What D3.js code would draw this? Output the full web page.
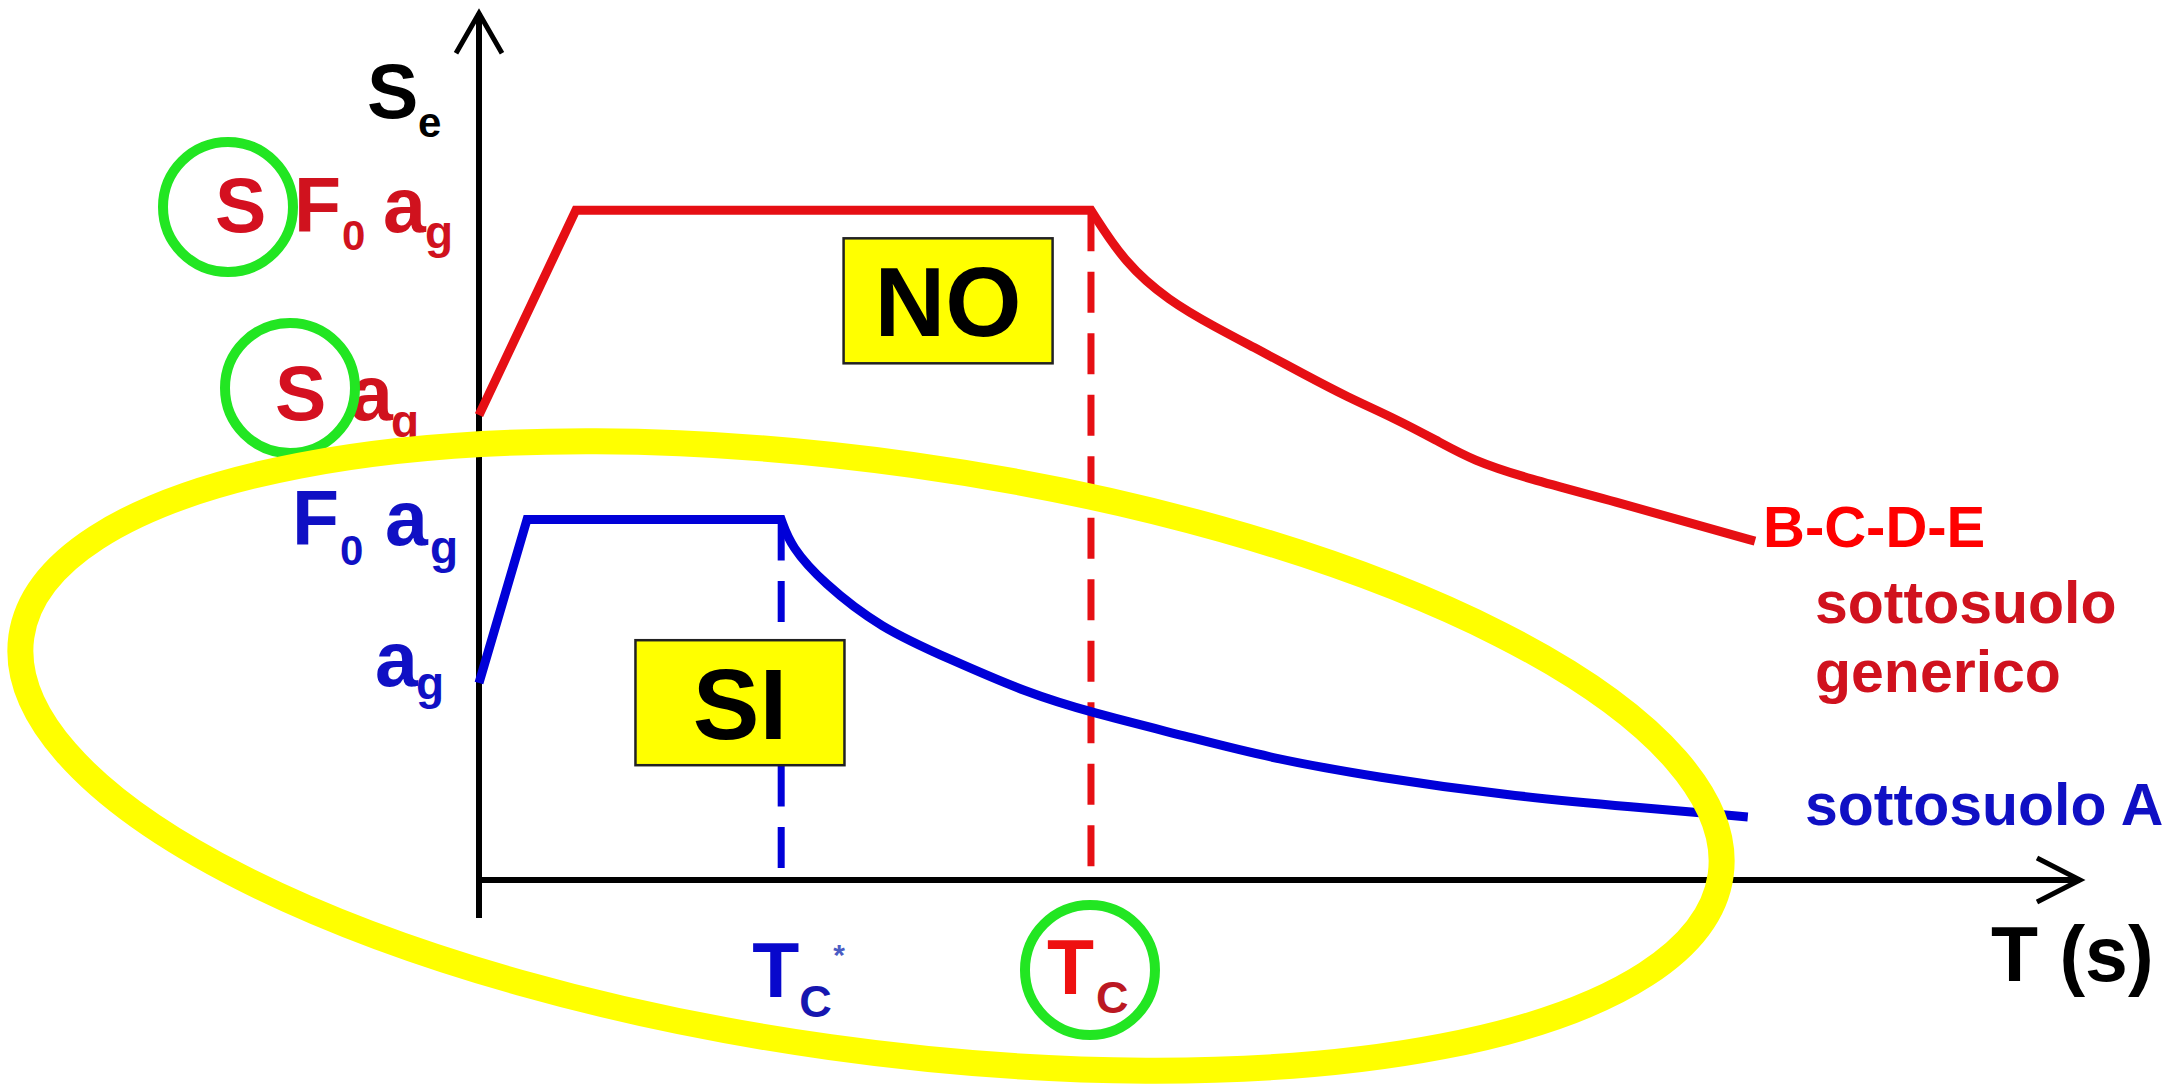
<!DOCTYPE html>
<html>
<head>
<meta charset="utf-8">
<script src="https://cdn.jsdelivr.net/npm/d3@7"></script>
<style>
  html, body { margin: 0; padding: 0; background: #ffffff; }
  svg { display: block; }
  text { font-family: "Liberation Sans", Arial, Helvetica, sans-serif; font-weight: bold; }
</style>
</head>
<body>
<svg id="chart" width="2179" height="1084"></svg>
<script>
// Elastic response spectrum Se(T): generic subsoil (B-C-D-E) against subsoil A.
// Periods in seconds, spectral ordinates in multiples of a_g.
const periodsGeneric = [0, 0.242, 1.529, 1.614, 1.724, 1.836, 1.949, 2.059, 2.171, 2.281, 2.394, 2.483, 2.616, 2.841, 3.064, 3.188];
const seGeneric      = [2.36, 3.40, 3.40, 3.13, 2.94, 2.81, 2.69, 2.57, 2.45, 2.35, 2.23, 2.13, 2.04, 1.92, 1.79, 1.72];

const periodsA = [0, 0.12, 0.755, 0.780, 0.859, 1.002, 1.177, 1.369, 1.529, 1.766, 1.974, 2.246, 2.563, 2.883, 3.170];
const seA      = [1.00, 1.83, 1.83, 1.69, 1.51, 1.28, 1.12, 0.95, 0.85, 0.73, 0.62, 0.52, 0.43, 0.37, 0.32];

// Corner periods T_C of the constant-acceleration branch
const cornerPeriodNames = ["generic", "A"];
const cornerPeriods     = [1.529, 0.755];

// Ordinates marked on the Se axis
const seLevelNames  = ["S F0 ag", "S ag", "F0 ag", "ag"];
const seLevelValues = [3.40, 2.36, 1.83, 1.00];

// Curve labels
const seriesNames = ["B-C-D-E", "sottosuolo generico", "sottosuolo A"];

const svg = d3.select("#chart");

const x = d3.scaleLinear().domain([0, 4]).range([479, 2080]);
const y = d3.scaleLinear().domain([0, 4.4]).range([880, 13.2]);

const RED = "#e60f14", BLUE = "#0000d8";
const RED_TXT = "#d0121e", BLUE_TXT = "#1010c4";

// ---- axes ----
const axes = svg.append("g").attr("stroke", "#000");
axes.append("line")
  .attr("x1", x(0)).attr("x2", x(0))
  .attr("y1", y.range()[1]).attr("y2", y(0) + 38)
  .attr("stroke-width", 6);
axes.append("line")
  .attr("x1", x(0) - 3).attr("x2", x.range()[1])
  .attr("y1", y(0)).attr("y2", y(0))
  .attr("stroke-width", 6);
axes.append("path")
  .attr("d", `M${x(0) - 23},${y.range()[1] + 40} L${x(0)},${y.range()[1]} L${x(0) + 23},${y.range()[1] + 40}`)
  .attr("fill", "none").attr("stroke-width", 5);
axes.append("path")
  .attr("d", `M${x.range()[1] - 43},${y(0) - 22} L${x.range()[1]},${y(0)} L${x.range()[1] - 43},${y(0) + 22}`)
  .attr("fill", "none").attr("stroke-width", 5);

// ---- dashed verticals at the corner periods ----
const plateau = { generic: seGeneric[1], A: seA[1] };
const dashColor = { generic: RED, A: BLUE };
cornerPeriodNames.forEach((name, i) => {
  svg.append("line")
    .attr("x1", x(cornerPeriods[i])).attr("x2", x(cornerPeriods[i]))
    .attr("y1", y(plateau[name])).attr("y2", y(0))
    .attr("stroke", dashColor[name])
    .attr("stroke-width", 7)
    .attr("stroke-dasharray", "41 20.5");
});

// ---- spectra: straight rise and plateau, smooth descending branch ----
const straight = d3.line().x(d => x(d[0])).y(d => y(d[1]));
const smooth = d3.line().x(d => x(d[0])).y(d => y(d[1])).curve(d3.curveBasis);
function spectrumPath(ts, ses) {
  const pts = d3.zip(ts, ses);
  const head = straight(pts.slice(0, 3));
  const tail = smooth(pts.slice(2)).replace(/^M/, "L");
  return head + tail;
}
svg.append("path")
  .attr("d", spectrumPath(periodsGeneric, seGeneric))
  .attr("fill", "none").attr("stroke", RED).attr("stroke-width", 9)
  .attr("stroke-linejoin", "miter");
svg.append("path")
  .attr("d", spectrumPath(periodsA, seA))
  .attr("fill", "none").attr("stroke", BLUE).attr("stroke-width", 9)
  .attr("stroke-linejoin", "miter");

// ---- composite labels: one text, pieces [text, fontSize, dx, dy, colour] ----
function label(x0, y0, parts) {
  const t = svg.append("text");
  parts.forEach(([s, size, dx, dy, col]) => {
    t.append("tspan")
      .attr("x", x0 + dx).attr("y", y0 + dy)
      .attr("font-size", size)
      .attr("fill", col)
      .text(s);
  });
  return t;
}

// Se axis title
label(367, 118, [["S", 77, 0, 0, "#000"], ["e", 42, 51, 19, "#000"]]);

// Se levels
const levelLabels = {
  "S F0 ag": { x: 215, dy: 22, parts: [["S", 77, 0, 0, "#d41020"], ["F", 77, 79, 0, RED_TXT], ["0", 42, 127, 18, RED_TXT], ["a", 77, 168, 0, RED_TXT], ["g", 46, 210, 16, RED_TXT]] },
  "S ag":    { x: 275, dy: 5,  parts: [["S", 77, 0, 0, "#d41020"], ["a", 77, 75, 0, RED_TXT], ["g", 46, 116, 17, RED_TXT]] },
  "F0 ag":   { x: 292, dy: 26, parts: [["F", 77, 0, 0, BLUE_TXT], ["0", 42, 48, 20, BLUE_TXT], ["a", 77, 93, 0, BLUE_TXT], ["g", 46, 138, 18, BLUE_TXT]] },
  "ag":      { x: 375, dy: 3,  parts: [["a", 77, 0, 0, BLUE_TXT], ["g", 46, 41, 13, BLUE_TXT]] }
};
seLevelNames.forEach((name, i) => {
  const L = levelLabels[name];
  label(L.x, y(seLevelValues[i]) + L.dy, L.parts);
});

// Period labels
label(x(cornerPeriods[1]) - 29, 997, [["T", 77, 0, 0, "#0808cc"], ["C", 45, 47, 20, "#1616b0"], ["*", 30, 81, -32, "#4a5cc4"]]);
label(x(cornerPeriods[0]) - 44, 994, [["T", 77, 0, 0, "#ee1010"], ["C", 45, 49, 19, "#bb1822"]]);
label(1991, 981, [["T (s)", 77, 0, 0, "#000"]]);

// Series labels
svg.append("text").attr("x", 1763).attr("y", 547).attr("font-size", 58).attr("fill", "#ff0000").text(seriesNames[0]);
const gen = seriesNames[1].split(" ");
svg.append("text").attr("x", 1815).attr("y", 623).attr("font-size", 59).attr("fill", RED_TXT).text(gen[0]);
svg.append("text").attr("x", 1815).attr("y", 692).attr("font-size", 59).attr("fill", RED_TXT).text(gen[1]);
svg.append("text").attr("x", 1805).attr("y", 825).attr("font-size", 59).attr("fill", BLUE_TXT).text(seriesNames[2]);

// ---- verdict boxes ----
const boxes = [
  { text: "NO", t: 1.172, se: 2.94, size: 98 },
  { text: "SI", t: 0.652, se: 0.90, size: 100 }
];
const BW = 209, BH = 125;
boxes.forEach(b => {
  const cx = x(b.t), cy = y(b.se);
  svg.append("rect")
    .attr("x", cx - BW / 2).attr("y", cy - BH / 2)
    .attr("width", BW).attr("height", BH)
    .attr("fill", "#ffff00").attr("stroke", "#222").attr("stroke-width", 2.5);
  svg.append("text")
    .attr("x", cx).attr("y", cy + b.size * 0.36)
    .attr("text-anchor", "middle")
    .attr("font-size", b.size).attr("fill", "#000")
    .text(b.text);
});

// ---- highlight rings around the soil factor S and T_C ----
const rings = [[228, 207], [290, 388], [x(cornerPeriods[0]) - 1, 970]];
svg.selectAll("circle.ring").data(rings).join("circle")
  .attr("class", "ring")
  .attr("cx", d => d[0]).attr("cy", d => d[1]).attr("r", 65)
  .attr("fill", "none").attr("stroke", "#22e622").attr("stroke-width", 10);

// ---- ellipse enclosing the subsoil-A spectrum ----
svg.append("ellipse")
  .attr("cx", 871).attr("cy", 756).attr("rx", 858).attr("ry", 294)
  .attr("transform", "rotate(8 871 756)")
  .attr("fill", "none").attr("stroke", "#ffff00").attr("stroke-width", 26);
</script>
</body>
</html>
